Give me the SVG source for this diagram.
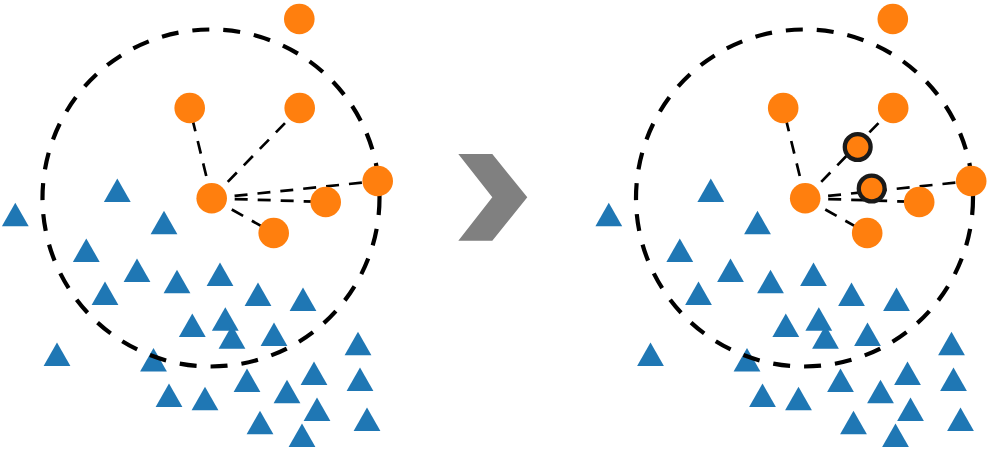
<svg xmlns="http://www.w3.org/2000/svg" xmlns:xlink="http://www.w3.org/1999/xlink" width="990" height="449" viewBox="0 0 990 449">
  <style>
    .tri { fill: #1f77b4; }
    .pt { fill: #ff7f0e; }
    .syn { fill: #ff7f0e; stroke: #1a1a1a; stroke-width: 4.3; }
    .ring { fill: none; stroke: #000; stroke-width: 4.2; stroke-dasharray: 17 14; }
    .nb { fill: none; stroke: #000; stroke-width: 2.7; stroke-dasharray: 13 10; }
    .arrow { fill: #808080; }
  </style>
  <defs>
    <path id="t" d="M0,-11.7 L13.4,11.7 L-13.4,11.7 Z"/>
  </defs>
  <rect width="990" height="449" fill="#fff"/>

  <g id="panel-before">
    <g id="majority-before">
      <use xlink:href="#t" class="tri" x="15.3" y="214.5"/>
      <use xlink:href="#t" class="tri" x="117.3" y="190.3"/>
      <use xlink:href="#t" class="tri" x="164" y="222.5"/>
      <use xlink:href="#t" class="tri" x="86.3" y="250.2"/>
      <use xlink:href="#t" class="tri" x="137" y="270.2"/>
      <use xlink:href="#t" class="tri" x="177" y="281.5"/>
      <use xlink:href="#t" class="tri" x="220" y="274.2"/>
      <use xlink:href="#t" class="tri" x="105" y="293.3"/>
      <use xlink:href="#t" class="tri" x="258" y="294.2"/>
      <use xlink:href="#t" class="tri" x="303" y="299.2"/>
      <use xlink:href="#t" class="tri" x="192.3" y="325.2"/>
      <use xlink:href="#t" class="tri" x="225.3" y="319"/>
      <use xlink:href="#t" class="tri" x="232" y="337"/>
      <use xlink:href="#t" class="tri" x="274" y="334.3"/>
      <use xlink:href="#t" class="tri" x="358" y="343.5"/>
      <use xlink:href="#t" class="tri" x="57" y="354.2"/>
      <use xlink:href="#t" class="tri" x="153.5" y="359.7"/>
      <use xlink:href="#t" class="tri" x="247" y="380.2"/>
      <use xlink:href="#t" class="tri" x="314" y="373.2"/>
      <use xlink:href="#t" class="tri" x="360" y="379.2"/>
      <use xlink:href="#t" class="tri" x="169" y="395.3"/>
      <use xlink:href="#t" class="tri" x="205" y="398.5"/>
      <use xlink:href="#t" class="tri" x="287" y="391.5"/>
      <use xlink:href="#t" class="tri" x="317" y="409.2"/>
      <use xlink:href="#t" class="tri" x="367" y="419.3"/>
      <use xlink:href="#t" class="tri" x="260" y="422.5"/>
      <use xlink:href="#t" class="tri" x="302" y="435.3"/>
    </g>
    <circle id="radius-before" class="ring" cx="211" cy="198" r="168.5"/>
    <g id="connectors-before">
      <line class="nb" x1="211.7" y1="198.3" x2="189.7" y2="108"/>
      <line class="nb" x1="211.7" y1="198.3" x2="299.7" y2="108"/>
      <line class="nb" x1="211.7" y1="198.3" x2="377.7" y2="181"/>
      <line class="nb" x1="211.7" y1="198.3" x2="325.7" y2="202"/>
      <line class="nb" x1="211.7" y1="198.3" x2="273.7" y2="233"/>
    </g>
    <g id="minority-before">
      <circle class="pt" cx="299.3" cy="19" r="15.3"/>
      <circle class="pt" cx="189.7" cy="108" r="15.3"/>
      <circle class="pt" cx="299.7" cy="108" r="15.3"/>
      <circle class="pt" cx="377.7" cy="181" r="15.3"/>
      <circle class="pt" cx="325.7" cy="202" r="15.3"/>
      <circle class="pt" cx="273.7" cy="233" r="15.3"/>
      <circle class="pt" cx="211.7" cy="198.3" r="15.3"/>
    </g>
  </g>

  <polygon id="arrow" class="arrow" points="458.3,154 492.3,154 527.3,197.3 492.3,240.7 458.3,240.7 492.3,197.3"/>

  <g id="panel-after" transform="translate(593.5 0)">
    <g id="majority-after">
      <use xlink:href="#t" class="tri" x="15.3" y="214.5"/>
      <use xlink:href="#t" class="tri" x="117.3" y="190.3"/>
      <use xlink:href="#t" class="tri" x="164" y="222.5"/>
      <use xlink:href="#t" class="tri" x="86.3" y="250.2"/>
      <use xlink:href="#t" class="tri" x="137" y="270.2"/>
      <use xlink:href="#t" class="tri" x="177" y="281.5"/>
      <use xlink:href="#t" class="tri" x="220" y="274.2"/>
      <use xlink:href="#t" class="tri" x="105" y="293.3"/>
      <use xlink:href="#t" class="tri" x="258" y="294.2"/>
      <use xlink:href="#t" class="tri" x="303" y="299.2"/>
      <use xlink:href="#t" class="tri" x="192.3" y="325.2"/>
      <use xlink:href="#t" class="tri" x="225.3" y="319"/>
      <use xlink:href="#t" class="tri" x="232" y="337"/>
      <use xlink:href="#t" class="tri" x="274" y="334.3"/>
      <use xlink:href="#t" class="tri" x="358" y="343.5"/>
      <use xlink:href="#t" class="tri" x="57" y="354.2"/>
      <use xlink:href="#t" class="tri" x="153.5" y="359.7"/>
      <use xlink:href="#t" class="tri" x="247" y="380.2"/>
      <use xlink:href="#t" class="tri" x="314" y="373.2"/>
      <use xlink:href="#t" class="tri" x="360" y="379.2"/>
      <use xlink:href="#t" class="tri" x="169" y="395.3"/>
      <use xlink:href="#t" class="tri" x="205" y="398.5"/>
      <use xlink:href="#t" class="tri" x="287" y="391.5"/>
      <use xlink:href="#t" class="tri" x="317" y="409.2"/>
      <use xlink:href="#t" class="tri" x="367" y="419.3"/>
      <use xlink:href="#t" class="tri" x="260" y="422.5"/>
      <use xlink:href="#t" class="tri" x="302" y="435.3"/>
    </g>
    <circle id="radius-after" class="ring" cx="211" cy="198" r="168.5"/>
    <g id="connectors-after">
      <line class="nb" x1="211.7" y1="198.3" x2="189.7" y2="108"/>
      <line class="nb" x1="211.7" y1="198.3" x2="299.7" y2="108"/>
      <line class="nb" x1="211.7" y1="198.3" x2="377.7" y2="181"/>
      <line class="nb" x1="211.7" y1="198.3" x2="325.7" y2="202"/>
      <line class="nb" x1="211.7" y1="198.3" x2="273.7" y2="233"/>
    </g>
    <g id="minority-after">
      <circle class="pt" cx="299.3" cy="19" r="15.3"/>
      <circle class="pt" cx="189.7" cy="108" r="15.3"/>
      <circle class="pt" cx="299.7" cy="108" r="15.3"/>
      <circle class="pt" cx="377.7" cy="181" r="15.3"/>
      <circle class="pt" cx="325.7" cy="202" r="15.3"/>
      <circle class="pt" cx="273.7" cy="233" r="15.3"/>
      <circle class="pt" cx="211.7" cy="198.3" r="15.3"/>
    </g>
    <g id="synthetic">
      <circle id="syn1" class="syn" cx="264.2" cy="147" r="12.9"/>
      <circle id="syn2" class="syn" cx="278.2" cy="188.5" r="12.9"/>
    </g>
  </g>
</svg>
